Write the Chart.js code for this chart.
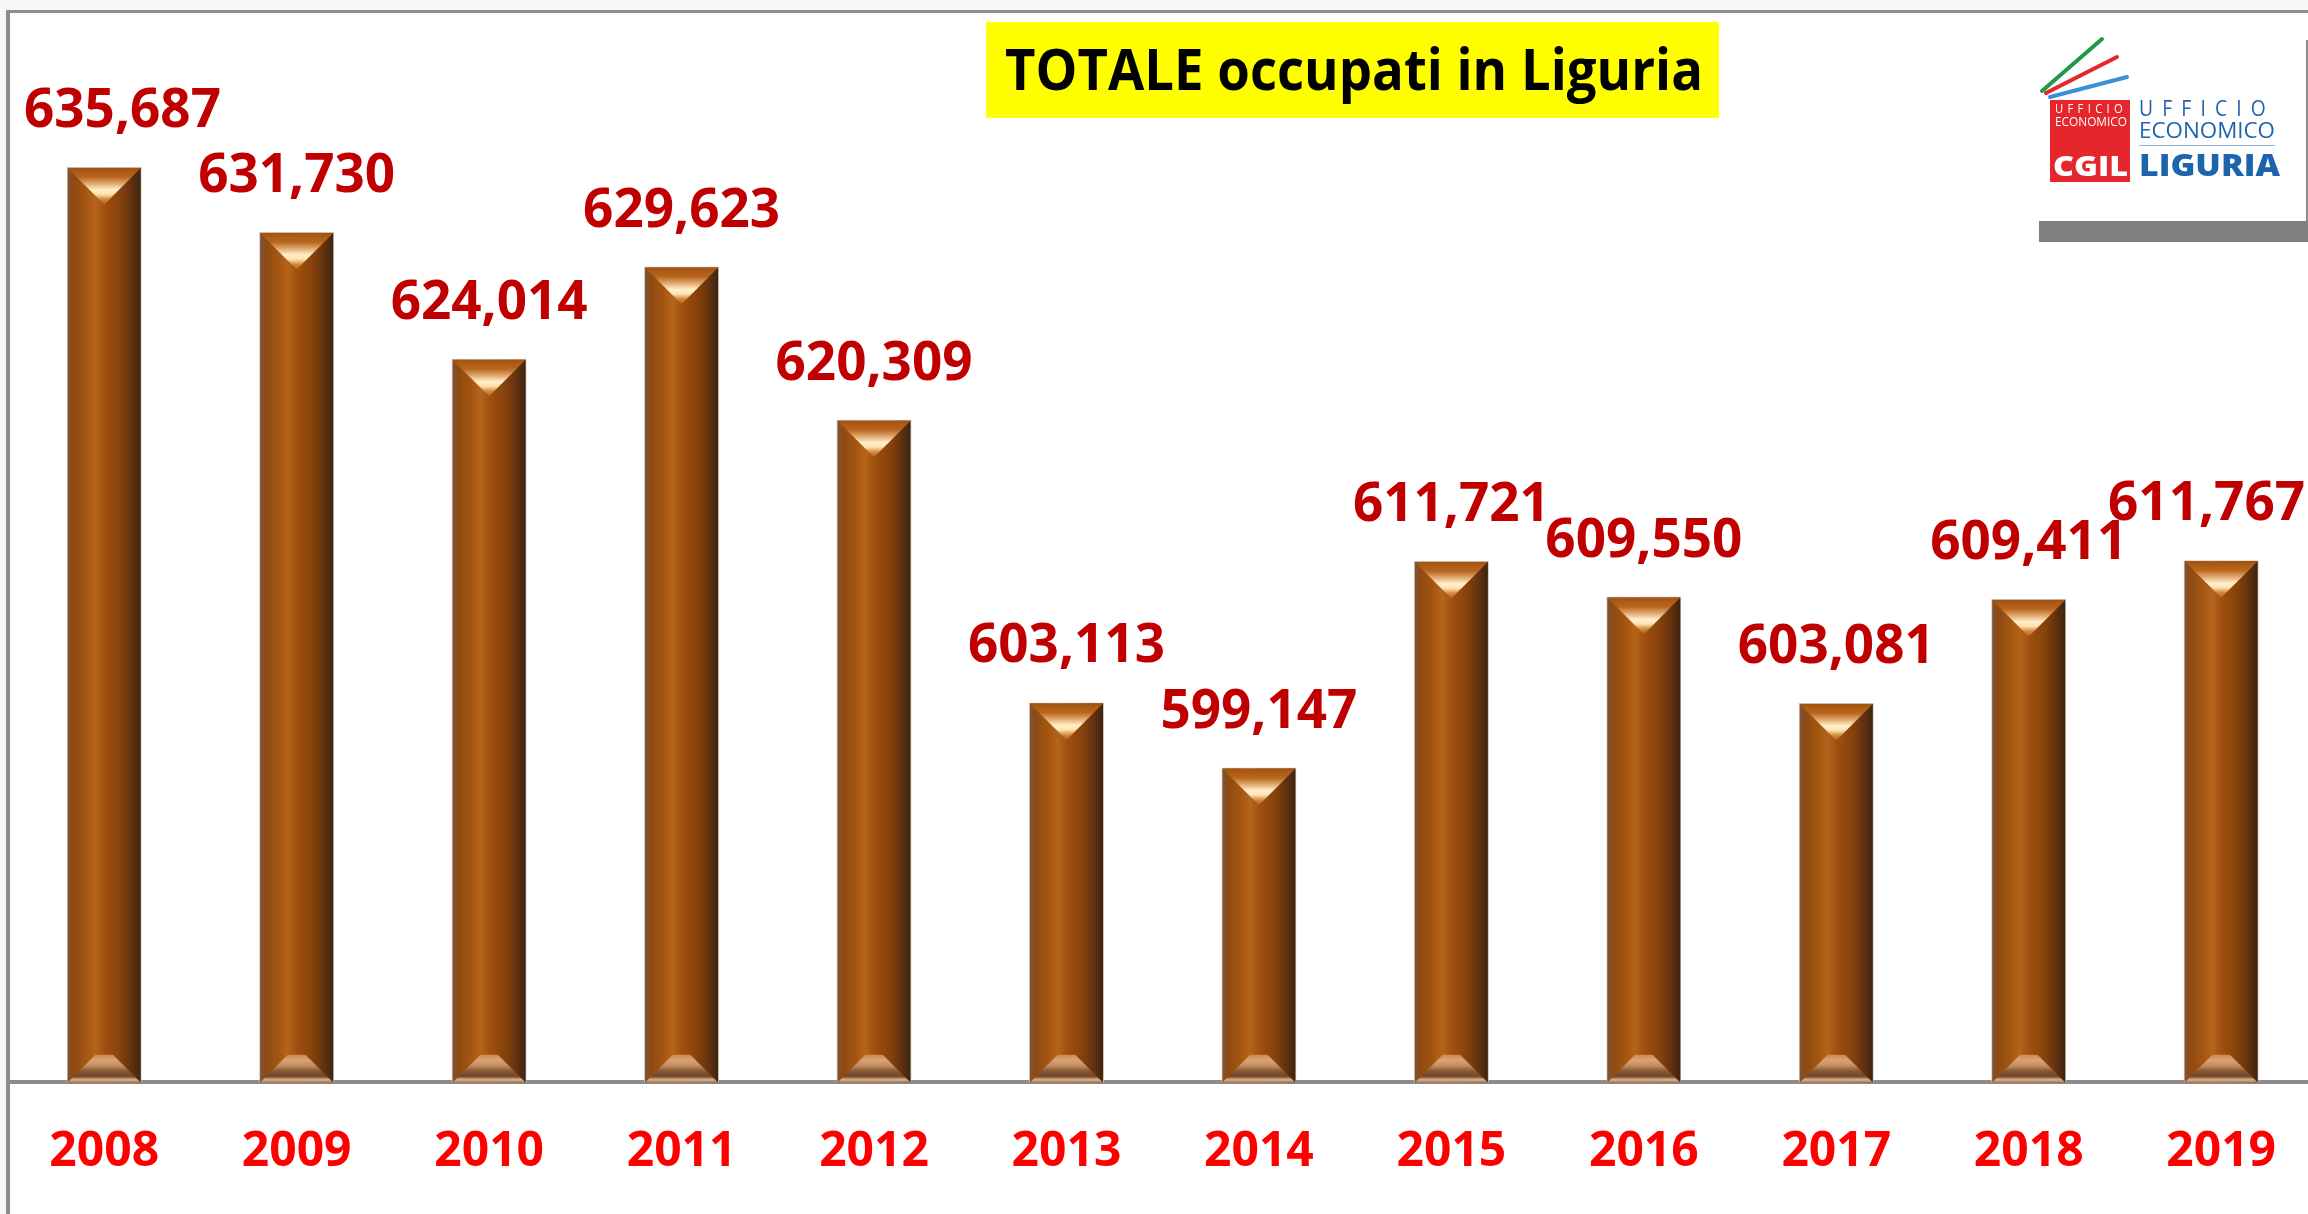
<!DOCTYPE html>
<html>
<head>
<meta charset="utf-8">
<script src="https://cdn.jsdelivr.net/npm/chart.js@4.4.1/dist/chart.umd.min.js"></script>
<style>
  html, body { margin: 0; padding: 0; overflow: hidden; background: #f7f7f7; }
  #wrap { position: relative; width: 2308px; height: 1214px; overflow: hidden; }
  #myChart { position: absolute; left: 0; top: 0; }
  .abs { position: absolute; white-space: nowrap; line-height: 1; transform-origin: 0 0; font-family: 'Open Sans', sans-serif; }
  .titlebox { position: absolute; left: 986px; top: 22px; width: 733px; height: 96px; background: #ffff00; }
  .redbox { position: absolute; left: 2050px; top: 100px; width: 80px; height: 82px; background: #e5262c; }
  .rule { position: absolute; left: 2139px; top: 145px; width: 136px; height: 1px; background: #8fb8dc; }
  .grayband { position: absolute; left: 2039px; top: 221px; width: 269px; height: 21px; background: #808080; }
  .vline { position: absolute; left: 2306px; top: 40px; width: 2px; height: 181px; background: #8a8a8a; }
</style>
</head>
<body>
<div id="wrap">
  <canvas id="myChart" width="2320" height="1222"></canvas>

  <div class="titlebox"></div>
  <span class="abs" data-w="698" style="left:1005px; top:39px; font-size:58px; font-weight:bold; color:#000;">TOTALE occupati in Liguria</span>

  <!-- logo -->
  <svg style="position:absolute; left:2036px; top:34px;" width="100" height="70">
    <line x1="6" y1="57" x2="66" y2="5" stroke="#1f9a48" stroke-width="4" stroke-linecap="round"/>
    <line x1="10" y1="59" x2="81" y2="23" stroke="#e5262c" stroke-width="4" stroke-linecap="round"/>
    <line x1="14" y1="63" x2="91" y2="43" stroke="#3d8fd6" stroke-width="4" stroke-linecap="round"/>
  </svg>
  <div class="redbox"></div>
  <span class="abs" data-w="72" style="left:2055px; top:102px; font-size:13px; color:#fff; letter-spacing:5px;">UFFICIO</span>
  <span class="abs" data-w="72" style="left:2055px; top:115px; font-size:13px; color:#fff;">ECONOMICO</span>
  <span class="abs" data-w="75" style="left:2053px; top:150px; font-size:29px; font-weight:800; color:#fff;">CGIL</span>
  <span class="abs" data-w="136" style="left:2139px; top:98px; font-size:21px; color:#1c64ac; letter-spacing:10px;">UFFICIO</span>
  <span class="abs" data-w="136" style="left:2139px; top:118px; font-size:22px; color:#1c64ac;">ECONOMICO</span>
  <div class="rule"></div>
  <span class="abs" data-w="141" style="left:2139px; top:150px; font-size:30px; font-weight:800; color:#1c64ac;">LIGURIA</span>
  <div class="vline"></div>
  <div class="grayband"></div>
</div>

<script>
const years = ['2008', '2009', '2010', '2011', '2012', '2013', '2014', '2015', '2016', '2017', '2018', '2019'];
const occupati = [635687, 631730, 624014, 629623, 620309, 603113, 599147, 611721, 609550, 603081, 609411, 611767];
const yMin = 580000;
const yMax = 640000;

// squeeze the html texts to the widths they have in the picture
document.querySelectorAll('[data-w]').forEach((el) => {
  const w = el.getBoundingClientRect().width;
  const target = parseFloat(el.dataset.w);
  el.style.transform = 'scaleX(' + (target / w) + ')';
});

Chart.defaults.font.family = "'Open Sans', sans-serif";

// frame: light margin, white sheet, gray top/left edge
const framePlugin = {
  id: 'frame',
  beforeDraw(chart) {
    const ctx = chart.ctx;
    ctx.save();
    ctx.fillStyle = '#f7f7f7';
    ctx.fillRect(0, 0, chart.width, chart.height);
    ctx.fillStyle = '#ffffff';
    ctx.fillRect(8, 11, chart.width, chart.height);
    ctx.fillStyle = '#8c8c8c';
    ctx.fillRect(6, 10, chart.width, 3);
    ctx.fillRect(6, 10, 4, chart.height);
    ctx.restore();
  }
};

// copper look on each bar, taken from the bar elements
const bevelPlugin = {
  id: 'bevel',
  afterDatasetsDraw(chart) {
    const ctx = chart.ctx;
    const meta = chart.getDatasetMeta(0);
    meta.data.forEach((bar) => {
      const {x, y, base, width} = bar.getProps(['x', 'y', 'base', 'width'], true);
      const l = x - width / 2 + 1, r = x + width / 2 - 1;
      const w = r - l;
      ctx.save();
      const g = ctx.createLinearGradient(l, 0, r, 0);
      g.addColorStop(0, '#7e5434');
      g.addColorStop(0.08, '#8e4a14');
      g.addColorStop(0.25, '#a4560f');
      g.addColorStop(0.38, '#b6641c');
      g.addColorStop(0.52, '#9e4f0e');
      g.addColorStop(0.72, '#86420b');
      g.addColorStop(0.87, '#633210');
      g.addColorStop(1, '#3e2410');
      ctx.fillStyle = g;
      ctx.fillRect(l, y + 1, w, base - y - 1);

      // top facet
      const d = w / 2;
      const gt = ctx.createLinearGradient(0, y + 1, 0, y + 1 + d);
      gt.addColorStop(0, '#a4530f');
      gt.addColorStop(0.25, '#b8661e');
      gt.addColorStop(0.45, '#e6b07a');
      gt.addColorStop(0.6, '#fff0cc');
      gt.addColorStop(0.72, '#ffe2ae');
      gt.addColorStop(0.86, '#cf8a40');
      gt.addColorStop(1, '#b06018');
      ctx.fillStyle = gt;
      ctx.beginPath();
      ctx.moveTo(l, y + 1);
      ctx.lineTo(r, y + 1);
      ctx.lineTo(x, y + 1 + d);
      ctx.closePath();
      ctx.fill();

      // bottom facet
      const h = w * 0.38;
      const gb = ctx.createLinearGradient(0, base - h, 0, base);
      gb.addColorStop(0, '#c98a56');
      gb.addColorStop(0.2, '#d8a476');
      gb.addColorStop(0.4, '#c48c62');
      gb.addColorStop(0.58, '#8a5a36');
      gb.addColorStop(0.78, '#6e4628');
      gb.addColorStop(0.9, '#dcae84');
      gb.addColorStop(1, '#b08060');
      ctx.fillStyle = gb;
      ctx.beginPath();
      ctx.moveTo(l, base);
      ctx.lineTo(r, base);
      ctx.lineTo(r - h, base - h);
      ctx.lineTo(l + h, base - h);
      ctx.closePath();
      ctx.fill();
      ctx.restore();
    });
  }
};

// values above the bars, kept inside the sheet at the two ends
const valuePlugin = {
  id: 'values',
  afterDatasetsDraw(chart) {
    const ctx = chart.ctx;
    const meta = chart.getDatasetMeta(0);
    ctx.save();
    ctx.font = "bold 53px 'Open Sans'";
    ctx.fillStyle = '#c00000';
    ctx.textAlign = 'center';
    ctx.textBaseline = 'alphabetic';
    meta.data.forEach((bar, i) => {
      const txt = occupati[i].toLocaleString('en-US');
      const tw = ctx.measureText(txt).width;
      let tx = bar.x;
      if (tx - tw / 2 < 24) tx = 24 + tw / 2;
      if (tx + tw / 2 > 2305) tx = 2305 - tw / 2;
      ctx.fillText(txt, tx, bar.y - 40);
    });
    ctx.restore();
  }
};

const chart = new Chart(document.getElementById('myChart'), {
  type: 'bar',
  data: {
    labels: years,
    datasets: [{
      data: occupati,
      base: yMin,
      backgroundColor: '#9a4c10',
      borderColor: '#cfc6bd',
      borderWidth: 2,
      barPercentage: 0.39,
      categoryPercentage: 1
    }]
  },
  options: {
    responsive: false,
    animation: false,
    layout: { padding: { left: 8, right: 2.6, top: 96, bottom: 0 } },
    plugins: {
      legend: { display: false },
      tooltip: { enabled: false }
    },
    scales: {
      x: {
        grid: { display: false, drawTicks: false },
        border: { display: true, color: '#8c8c8c', width: 4 },
        ticks: { color: '#ff0000', font: { size: 48, weight: 'bold' }, padding: 41 }
      },
      y: {
        display: false,
        min: yMin,
        max: yMax
      }
    }
  },
  plugins: [framePlugin, bevelPlugin, valuePlugin]
});
</script>
</body>
</html>
